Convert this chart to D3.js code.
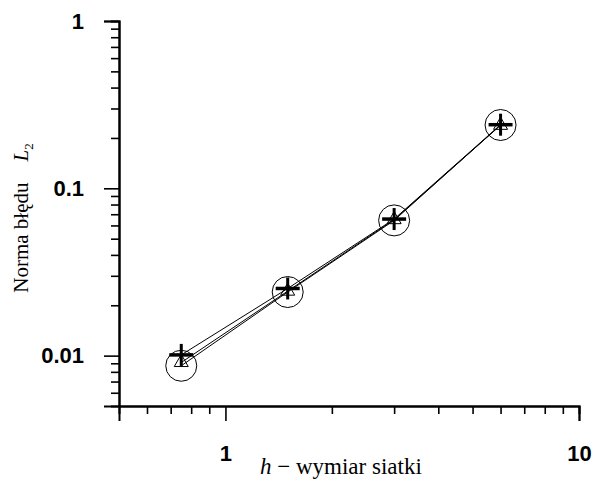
<!DOCTYPE html>
<html>
<head>
<meta charset="utf-8">
<script src="https://cdn.jsdelivr.net/npm/d3@7"></script>
<style>
  html, body { margin: 0; padding: 0; background: #fff; }
  svg { display: block; }
</style>
</head>
<body>
<svg id="chart" width="596" height="479"></svg>
<script>
// Mesh size h and the L2 error norm for three runs
const meshSizes = [0.75, 1.5, 3, 6];
const errPlus = [0.0101, 0.0252, 0.0655, 0.240];
const errTriangle = [0.0091, 0.0243, 0.0650, 0.238];
const errCircle = [0.0087, 0.0240, 0.0643, 0.239];

const xMajorTicks = [1, 10];
const xMinorTicks = [0.6, 0.7, 0.8, 0.9, 2, 3, 4, 5, 6, 7, 8, 9];
const yMajorTicks = [0.01, 0.1, 1];
const yMinorTicks = [0.006, 0.007, 0.008, 0.009,
  0.02, 0.03, 0.04, 0.05, 0.06, 0.07, 0.08, 0.09,
  0.2, 0.3, 0.4, 0.5, 0.6, 0.7, 0.8, 0.9];
const xDomain = [0.5, 10];
const yDomain = [0.005, 1];

const svg = d3.select("#chart");
const x = d3.scaleLog().domain(xDomain).range([119, 579]);
const y = d3.scaleLog().domain(yDomain).range([406, 21]);

const fmt = d => String(d);

// Y axis: minor then major ticks
const gy = svg.append("g").attr("transform", "translate(119,0)");
gy.append("g").call(d3.axisLeft(y).tickValues(yMinorTicks).tickSize(8).tickFormat(""));
gy.append("g").call(d3.axisLeft(y).tickValues(yMajorTicks).tickSize(15).tickPadding(20).tickFormat(fmt));

// X axis
const gx = svg.append("g").attr("transform", "translate(0,406)");
gx.append("g").call(d3.axisBottom(x).tickValues(xMinorTicks).tickSize(8).tickFormat(""));
gx.append("g").call(d3.axisBottom(x).tickValues(xMajorTicks).tickSize(15).tickPadding(24).tickFormat(fmt));

svg.selectAll(".domain").attr("stroke", "#000").attr("stroke-width", 2);
svg.selectAll(".tick line").attr("stroke", "#000").attr("stroke-width", 1.6);
svg.selectAll(".tick text")
  .attr("fill", "#000")
  .style("font-family", "'Liberation Sans', Arial, Helvetica, sans-serif")
  .style("font-weight", "bold")
  .style("font-size", "22px");

// Axis titles
svg.append("text")
  .attr("x", 260).attr("y", 474)
  .attr("text-anchor", "start")
  .style("font-family", "'Liberation Serif', 'Times New Roman', serif")
  .style("font-size", "23px")
  .call(t => {
    t.append("tspan").style("font-style", "italic").text("h");
    t.append("tspan").text(" \u2212 wymiar siatki");
  });

svg.append("text")
  .attr("transform", "translate(28,218) rotate(-90)")
  .attr("text-anchor", "middle")
  .style("font-family", "'Liberation Serif', 'Times New Roman', serif")
  .style("font-size", "21px")
  .call(t => {
    t.append("tspan").text("Norma b\u0142\u0119du\u2003");
    t.append("tspan").style("font-style", "italic").text("L");
    t.append("tspan").attr("dy", 5).style("font-size", "13px").text("2");
  });

// Lines
const line = d3.line().x((d, i) => x(meshSizes[i])).y(d => y(d));
const series = [errCircle, errTriangle, errPlus];
svg.append("g").selectAll("path").data(series).join("path")
  .attr("d", line)
  .attr("fill", "none")
  .attr("stroke", "#000")
  .attr("stroke-width", 1);

// Markers
const gm = svg.append("g");
gm.selectAll("circle").data(errCircle).join("circle")
  .attr("cx", (d, i) => x(meshSizes[i]))
  .attr("cy", d => y(d))
  .attr("r", 15.5)
  .attr("fill", "none")
  .attr("stroke", "#000")
  .attr("stroke-width", 1);

const tri = d3.symbol().type(d3.symbolTriangle).size(85);
gm.selectAll("path.tri").data(errTriangle).join("path")
  .attr("class", "tri")
  .attr("transform", (d, i) => `translate(${x(meshSizes[i])},${y(d)})`)
  .attr("d", tri())
  .attr("fill", "none")
  .attr("stroke", "#000")
  .attr("stroke-width", 1);

const plus = gm.selectAll("g.plus").data(errPlus).join("g")
  .attr("class", "plus")
  .attr("transform", (d, i) => `translate(${x(meshSizes[i])},${y(d)})`);
plus.append("line").attr("x1", -12).attr("x2", 12).attr("y1", 0).attr("y2", 0)
  .attr("stroke", "#000").attr("stroke-width", 3.5);
plus.append("line").attr("x1", 0).attr("x2", 0).attr("y1", -11).attr("y2", 11)
  .attr("stroke", "#000").attr("stroke-width", 3);
</script>
</body>
</html>
